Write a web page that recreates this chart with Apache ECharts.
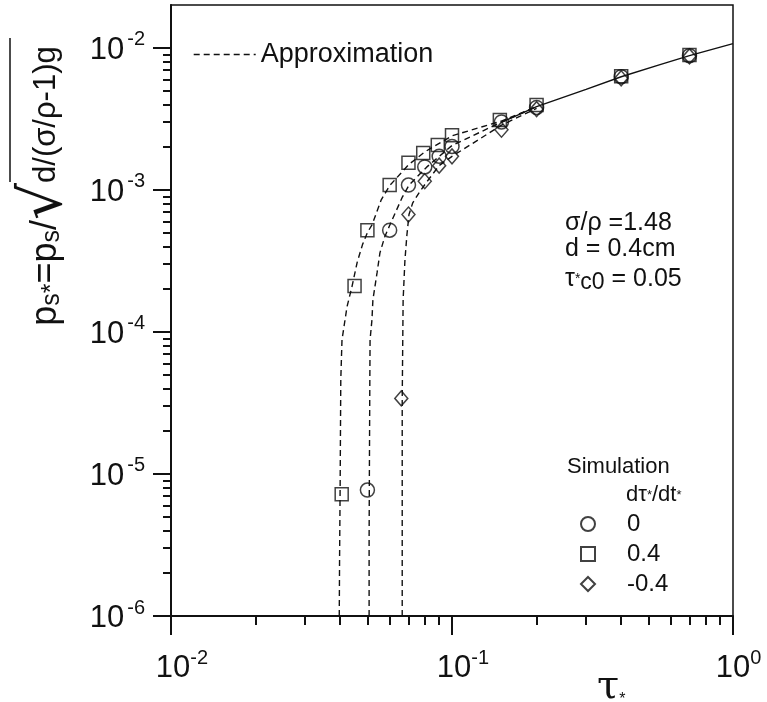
<!DOCTYPE html>
<html><head><meta charset="utf-8">
<script src="https://cdn.jsdelivr.net/npm/echarts@6/dist/echarts.min.js"></script>
<style>html,body{margin:0;padding:0;background:#fff}#c{width:767px;height:702px}</style>
</head><body><div id="c"></div>
<script>
const FONT = "'Liberation Sans', Arial, Helvetica, sans-serif";
const INK = '#111';

// ---- simulation points (tau*, ps*) ----
const tauCircle = [0.05, 0.06, 0.07, 0.08, 0.09, 0.1, 0.15, 0.2, 0.4, 0.7];
const psCircle  = [7.7e-6, 5.2e-4, 1.08e-3, 1.45e-3, 1.72e-3, 2.02e-3, 3.0e-3, 3.8e-3, 6.25e-3, 8.8e-3];
const tauSquare = [0.0405, 0.045, 0.05, 0.06, 0.07, 0.079, 0.089, 0.1, 0.148, 0.2, 0.4, 0.7];
const psSquare  = [7.2e-6, 2.1e-4, 5.2e-4, 1.08e-3, 1.55e-3, 1.82e-3, 2.07e-3, 2.42e-3, 3.1e-3, 3.95e-3, 6.3e-3, 8.9e-3];
const tauDiamond = [0.066, 0.07, 0.08, 0.09, 0.1, 0.15, 0.2, 0.4, 0.7];
const psDiamond  = [3.4e-5, 6.7e-4, 1.15e-3, 1.48e-3, 1.72e-3, 2.65e-3, 3.7e-3, 6.1e-3, 8.7e-3];

// ---- approximation curves ----
const apxSqTau = [0.0397, 0.0398, 0.0400, 0.0402, 0.0406, 0.0423, 0.0441, 0.046, 0.048, 0.05, 0.052, 0.054, 0.056, 0.06, 0.07, 0.08, 0.1, 0.15, 0.2];
const apxSqPs  = [1e-6, 2.5e-6, 9e-6, 4.6e-5, 8.8e-5, 1.5e-4, 2.1e-4, 3.1e-4, 4.1e-4, 5.0e-4, 5.7e-4, 7.0e-4, 8.5e-4, 1.07e-3, 1.5e-3, 1.85e-3, 2.4e-3, 3.05e-3, 3.85e-3];
const apxCiTau = [0.0507, 0.0507, 0.0508, 0.0510, 0.0511, 0.0519, 0.0523, 0.0541, 0.0554, 0.0577, 0.0602, 0.0664, 0.0703, 0.0814, 0.1, 0.15, 0.2];
const apxCiPs  = [1e-6, 3.4e-6, 9e-6, 4.6e-5, 8.8e-5, 1.22e-4, 1.68e-4, 2.6e-4, 3.6e-4, 4.7e-4, 5.7e-4, 8.8e-4, 1.08e-3, 1.45e-3, 2.05e-3, 3.0e-3, 3.85e-3];
const apxDiTau = [0.0665, 0.0665, 0.0665, 0.0668, 0.067, 0.068, 0.0691, 0.0703, 0.0725, 0.0768, 0.0814, 0.09, 0.1, 0.15, 0.2];
const apxDiPs  = [1e-6, 6.6e-6, 3.3e-5, 8.8e-5, 1.68e-4, 3.2e-4, 4.8e-4, 6.7e-4, 8.1e-4, 9.7e-4, 1.14e-3, 1.48e-3, 1.72e-3, 2.85e-3, 3.75e-3];
const mergedTau = [0.15, 0.2, 0.3, 0.4, 0.55, 0.7, 1.0];
const mergedPs  = [2.98e-3, 3.85e-3, 5.1e-3, 6.25e-3, 7.6e-3, 8.8e-3, 1.07e-2];

// ---- ticks ----
const xMajorTicks = [0.01, 0.1, 1];
const xTickLabels = ['10^-2', '10^-1', '10^0'];
const xMinorTicks = [0.02, 0.03, 0.04, 0.05, 0.06, 0.07, 0.08, 0.09, 0.2, 0.3, 0.4, 0.5, 0.6, 0.7, 0.8, 0.9];
const yMajorTicks = [1e-6, 1e-5, 1e-4, 1e-3, 1e-2];
const yTickLabels = ['10^-6', '10^-5', '10^-4', '10^-3', '10^-2'];
const yMinorTicks = [2e-6, 3e-6, 4e-6, 5e-6, 6e-6, 7e-6, 8e-6, 9e-6,
  2e-5, 3e-5, 4e-5, 5e-5, 6e-5, 7e-5, 8e-5, 9e-5,
  2e-4, 3e-4, 4e-4, 5e-4, 6e-4, 7e-4, 8e-4, 9e-4,
  2e-3, 3e-3, 4e-3, 5e-3, 6e-3, 7e-3, 8e-3, 9e-3];
const xMin = 0.01, xMax = 1, yMin = 1e-6, yMax = 0.02;
const simLegendNames = ['0', '0.4', '-0.4'];

const zip = (a, b) => a.map((v, i) => [v, b[i]]);
function labelFor(ticks, labels, v) {
  let best = 0;
  for (let i = 0; i < ticks.length; i++) if (Math.abs(Math.log10(ticks[i]) - Math.log10(v)) < Math.abs(Math.log10(ticks[best]) - Math.log10(v))) best = i;
  return labels[best];
}
const xTickRich = {
  b: {fontSize: 31, fontFamily: FONT, color: INK, lineHeight: 36, verticalAlign: 'bottom'},
  s: {fontSize: 20, fontFamily: FONT, color: INK, lineHeight: 20, verticalAlign: 'top'},
  w1: {width: 11, lineHeight: 36}, w2: {width: 22, lineHeight: 36}
};
const yTickRich = {
  b: {fontSize: 31, fontFamily: FONT, color: INK, lineHeight: 36, verticalAlign: 'bottom'},
  s: {fontSize: 20, fontFamily: FONT, color: INK, lineHeight: 20, verticalAlign: 'top', padding: [0, 0, 0, 3]}
};

const grid = {left: 171, right: 34, top: 5, bottom: 86};
const chart = echarts.init(document.getElementById('c'), null, {renderer: 'canvas'});

const symStyle = {color: 'rgba(0,0,0,0)', borderColor: INK, borderWidth: 1.5};
const dash = {color: INK, width: 1.4, type: [6, 4]};

chart.setOption({
  backgroundColor: '#fff',
  animation: false,
  color: [INK],
  grid: [
    Object.assign({show: true, borderColor: INK, borderWidth: 1.5, backgroundColor: 'transparent'}, grid),
    Object.assign({show: false}, grid)
  ],
  xAxis: [
    {type: 'log', gridIndex: 0, min: xMin, max: xMax, position: 'bottom',
     axisLine: {lineStyle: {color: INK, width: 2}},
     axisTick: {show: true, length: 19, customValues: xMajorTicks, lineStyle: {color: INK, width: 2}},
     axisLabel: {customValues: xMajorTicks, margin: 32, color: INK,
       formatter: v => { const [b, s] = labelFor(xMajorTicks, xTickLabels, v).split('^'); return '{w' + s.length + '| }{b|' + b + '}{s|' + s + '}'; },
       rich: xTickRich},
     splitLine: {show: false}},
    {type: 'log', gridIndex: 1, min: xMin, max: xMax, position: 'bottom',
     axisLine: {show: false},
     axisTick: {show: true, length: 9, customValues: xMinorTicks, lineStyle: {color: INK, width: 2}},
     axisLabel: {show: false}, splitLine: {show: false}}
  ],
  yAxis: [
    {type: 'log', gridIndex: 0, min: yMin, max: yMax, position: 'left',
     axisLine: {lineStyle: {color: INK, width: 2}},
     axisTick: {show: true, length: 18, customValues: yMajorTicks, lineStyle: {color: INK, width: 2}},
     axisLabel: {customValues: yMajorTicks, margin: 26, color: INK,
       formatter: v => { const [b, s] = labelFor(yMajorTicks, yTickLabels, v).split('^'); return '{b|' + b + '}{s|' + s + '}'; },
       rich: yTickRich},
     splitLine: {show: false}},
    {type: 'log', gridIndex: 1, min: yMin, max: yMax, position: 'left',
     axisLine: {show: false},
     axisTick: {show: true, length: 8, customValues: yMinorTicks, lineStyle: {color: INK, width: 2}},
     axisLabel: {show: false}, splitLine: {show: false}}
  ],
  legend: [
    {data: ['Approximation'], left: 193, top: 41, padding: 0, itemWidth: 62, itemHeight: 14,
     selectedMode: false, textStyle: {fontSize: 27, fontFamily: FONT, color: INK},
     itemStyle: {opacity: 0},
     lineStyle: {type: [6, 4], width: 1.4, color: INK}},
    {data: simLegendNames, orient: 'vertical', left: 580, top: 512, padding: 0,
     itemWidth: 14, itemHeight: 14, itemGap: 6, selectedMode: false,
     formatter: name => '{g| }{t|' + name + '}',
     textStyle: {fontSize: 24, fontFamily: FONT, color: INK,
       rich: {g: {width: 27}, t: {fontSize: 24, fontFamily: FONT, color: INK}}}}
  ],
  series: [
    {name: 'Approximation', type: 'line', data: zip(apxSqTau, apxSqPs), symbol: 'none', lineStyle: dash, itemStyle: {color: INK}, silent: true},
    {name: 'Approximation', type: 'line', data: zip(apxCiTau, apxCiPs), symbol: 'none', lineStyle: dash, itemStyle: {color: INK}, silent: true},
    {name: 'Approximation', type: 'line', data: zip(apxDiTau, apxDiPs), symbol: 'none', lineStyle: dash, itemStyle: {color: INK}, silent: true},
    {name: 'merged', type: 'line', data: zip(mergedTau, mergedPs), symbol: 'none', lineStyle: {color: INK, width: 1.4}, silent: true},
    {name: '0', type: 'scatter', data: zip(tauCircle, psCircle), symbol: 'circle', symbolSize: 14, itemStyle: symStyle, z: 5},
    {name: '0.4', type: 'scatter', data: zip(tauSquare, psSquare), symbol: 'rect', symbolSize: 13, itemStyle: symStyle, z: 5},
    {name: '-0.4', type: 'scatter', data: zip(tauDiamond, psDiamond), symbol: 'diamond', symbolSize: [13, 15], itemStyle: symStyle, z: 5}
  ],
  graphic: [
    {type: 'group', x: 46, y: 186, rotation: Math.PI / 2, children: [
      {type: 'text', x: 0, y: 0, style: {
        text: '{m|p}{sb|s*}{m|=p}{sb|s}{m|/}{r|√}{n|d/(σ/ρ-1)g}',
        align: 'center', verticalAlign: 'middle',
        rich: {
          m: {fontSize: 36, fontFamily: FONT, fill: INK, color: INK, lineHeight: 38},
          sb: {fontSize: 25, fontFamily: FONT, fill: INK, color: INK, lineHeight: 24, verticalAlign: 'bottom'},
          n: {fontSize: 31, fontFamily: FONT, fill: INK, color: INK, lineHeight: 38},
          r: {fontSize: 58, fontFamily: "'DejaVu Sans', sans-serif", fill: INK, color: INK, lineHeight: 38}
        }}},
      {type: 'line', shape: {x1: 4, y1: -36, x2: 148, y2: -36}, style: {stroke: INK, lineWidth: 1.5}}
    ]},
    {type: 'text', left: 597, top: 668, style: {
      text: '{t|τ}{st|*}', rich: {
        t: {fontSize: 40, fontFamily: "'DejaVu Serif', 'Liberation Serif', serif", fill: INK, color: INK, lineHeight: 40},
        st: {fontSize: 16, fontFamily: FONT, fill: INK, color: INK, lineHeight: 32, verticalAlign: 'bottom'}}}},
    {type: 'text', x: 565, y: 223, style: {text: 'σ/ρ =1.48', font: '25px ' + FONT, fill: INK, verticalAlign: 'middle'}},
    {type: 'text', x: 565, y: 249, style: {text: 'd = 0.4cm', font: '25px ' + FONT, fill: INK, verticalAlign: 'middle'}},
    {type: 'text', x: 565, y: 279, style: {
      text: '{n|τ}{st|*}{sb|c0}{n| = 0.05}', verticalAlign: 'middle',
      rich: {
        n: {fontSize: 25, fontFamily: FONT, fill: INK, color: INK, lineHeight: 30},
        st: {fontSize: 14, fontFamily: FONT, fill: INK, color: INK, lineHeight: 30},
        sb: {fontSize: 23, fontFamily: FONT, fill: INK, color: INK, lineHeight: 24, verticalAlign: 'bottom'}
      }}},
    {type: 'text', x: 567, y: 467, style: {text: 'Simulation', font: '22px ' + FONT, fill: INK, verticalAlign: 'middle'}},
    {type: 'text', x: 626, y: 495, style: {
      text: '{n|dτ}{st|*}{n|/dt}{st|*}', verticalAlign: 'middle',
      rich: {
        n: {fontSize: 22, fontFamily: FONT, fill: INK, color: INK, lineHeight: 26},
        st: {fontSize: 13, fontFamily: FONT, fill: INK, color: INK, lineHeight: 26}
      }}}
  ]
});
</script></body></html>
